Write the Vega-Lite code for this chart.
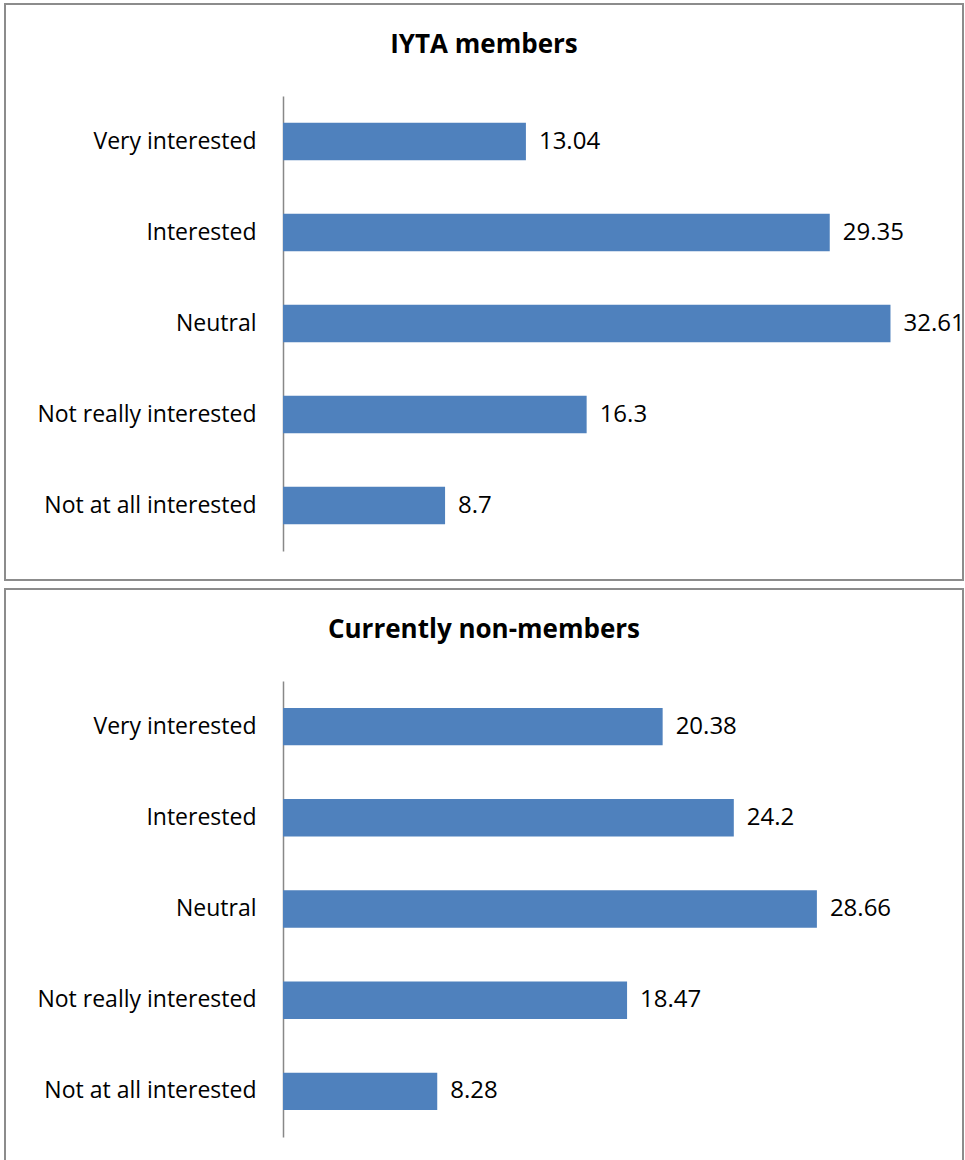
{
  "$schema": "https://vega.github.io/schema/vega-lite/v6.json",
  "padding": {"left": 4, "top": 3, "right": 0, "bottom": 0},
  "spacing": 7,
  "background": "white",
  "config": {"view": {"stroke": "#8c8c8c", "strokeWidth": 2}, "font": "Open Sans"},
  "datasets": {
    "d": [
      {"group": "IYTA members", "response": "Very interested", "value": 13.04},
      {"group": "IYTA members", "response": "Interested", "value": 29.35},
      {"group": "IYTA members", "response": "Neutral", "value": 32.61},
      {"group": "IYTA members", "response": "Not really interested", "value": 16.3},
      {"group": "IYTA members", "response": "Not at all interested", "value": 8.7},
      {"group": "Currently non-members", "response": "Very interested", "value": 20.38},
      {"group": "Currently non-members", "response": "Interested", "value": 24.2},
      {"group": "Currently non-members", "response": "Neutral", "value": 28.66},
      {"group": "Currently non-members", "response": "Not really interested", "value": 18.47},
      {"group": "Currently non-members", "response": "Not at all interested", "value": 8.28}
    ]
  },
  "vconcat": [
    {
      "width": 958,
      "height": 576,
      "data": {"name": "d"},
      "transform": [{"filter": "datum.group === 'IYTA members'"}],
      "title": {"text": "IYTA members", "offset": -75, "fontSize": 26, "font": "Open Sans", "fontWeight": "bold", "color": "#000000", "anchor": "middle", "baseline": "alphabetic"},
      "encoding": {
        "y": {"field": "response", "type": "nominal", "sort": ["Very interested", "Interested", "Neutral", "Not really interested", "Not at all interested"],
          "scale": {"range": [92, 547], "paddingInner": 0.59, "paddingOuter": 0.295},
          "axis": {"title": null, "offset": -278, "ticks": false, "labelPadding": 27, "labelLimit": 0, "labelFontSize": 23, "labelColor": "#000000", "labelFont": "Open Sans", "domainColor": "#888888", "domainWidth": 1.5}},
        "x": {"field": "value", "type": "quantitative", "scale": {"domain": [0, 35], "range": [278, 930]}, "axis": null}
      },
      "layer": [
        {"mark": {"type": "bar", "color": "#4F81BD"}},
        {"mark": {"type": "text", "align": "left", "dx": 13, "fontSize": 24, "color": "#000000", "font": "Open Sans"}, "encoding": {"text": {"field": "value", "type": "quantitative"}}}
      ]
    },
    {
      "width": 958,
      "height": 576,
      "data": {"name": "d"},
      "transform": [{"filter": "datum.group === 'Currently non-members'"}],
      "title": {"text": "Currently non-members", "offset": -75, "fontSize": 26, "font": "Open Sans", "fontWeight": "bold", "color": "#000000", "anchor": "middle", "baseline": "alphabetic"},
      "encoding": {
        "y": {"field": "response", "type": "nominal", "sort": ["Very interested", "Interested", "Neutral", "Not really interested", "Not at all interested"],
          "scale": {"range": [92, 548], "paddingInner": 0.59, "paddingOuter": 0.295},
          "axis": {"title": null, "offset": -278, "ticks": false, "labelPadding": 27, "labelLimit": 0, "labelFontSize": 23, "labelColor": "#000000", "labelFont": "Open Sans", "domainColor": "#888888", "domainWidth": 1.5}},
        "x": {"field": "value", "type": "quantitative", "scale": {"domain": [0, 35], "range": [278, 930]}, "axis": null}
      },
      "layer": [
        {"mark": {"type": "bar", "color": "#4F81BD"}},
        {"mark": {"type": "text", "align": "left", "dx": 13, "fontSize": 24, "color": "#000000", "font": "Open Sans"}, "encoding": {"text": {"field": "value", "type": "quantitative"}}}
      ]
    }
  ]
}
